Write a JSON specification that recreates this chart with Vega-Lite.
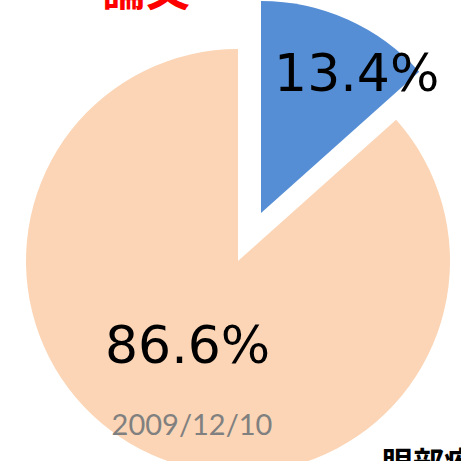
{
  "$schema": "https://vega.github.io/schema/vega-lite/v6.json",
  "width": 461,
  "height": 461,
  "autosize": "none",
  "padding": 0,
  "background": "white",
  "view": {"stroke": null},
  "datasets": {
    "pie": [
      {"category": "Yes", "value": 13.4, "label": "13.4%"},
      {"category": "No", "value": 86.6, "label": "86.6%"}
    ]
  },
  "layer": [
    {
      "data": {"name": "pie"},
      "mark": {"type": "arc", "x": 238, "y": 261, "outerRadius": 212},
      "encoding": {
        "theta": {"field": "value", "type": "quantitative", "stack": true},
        "order": {"field": "value", "type": "quantitative", "sort": "ascending"},
        "color": {"field": "category", "type": "nominal", "scale": {"domain": ["Yes", "No"], "range": ["#558ED5", "#FBD5B5"]}, "legend": null},
        "opacity": {"condition": {"test": "datum.category === 'No'", "value": 1}, "value": 0}
      }
    },
    {
      "data": {"name": "pie"},
      "mark": {"type": "arc", "x": 261, "y": 213, "outerRadius": 212},
      "encoding": {
        "theta": {"field": "value", "type": "quantitative", "stack": true},
        "order": {"field": "value", "type": "quantitative", "sort": "ascending"},
        "color": {"field": "category", "type": "nominal", "scale": {"domain": ["Yes", "No"], "range": ["#558ED5", "#FBD5B5"]}, "legend": null},
        "opacity": {"condition": {"test": "datum.category === 'Yes'", "value": 1}, "value": 0}
      }
    },
    {
      "data": {"name": "pie"},
      "mark": {"type": "text", "x": 261, "y": 213, "radius": 151, "dx": 34, "fontSize": 52, "font": "DejaVu Sans", "color": "black", "align": "center", "baseline": "middle"},
      "encoding": {
        "theta": {"field": "value", "type": "quantitative", "stack": true},
        "order": {"field": "value", "type": "quantitative", "sort": "ascending"},
        "text": {"field": "label"},
        "opacity": {"condition": {"test": "datum.category === 'Yes'", "value": 1}, "value": 0}
      }
    },
    {
      "data": {"name": "pie"},
      "mark": {"type": "text", "x": 238, "y": 261, "radius": 94, "dx": -12, "fontSize": 52, "font": "DejaVu Sans", "color": "black", "align": "center", "baseline": "middle"},
      "encoding": {
        "theta": {"field": "value", "type": "quantitative", "stack": true},
        "order": {"field": "value", "type": "quantitative", "sort": "ascending"},
        "text": {"field": "label"},
        "opacity": {"condition": {"test": "datum.category === 'No'", "value": 1}, "value": 0}
      }
    },
    {
      "data": {"values": [{"note": "2009/12/10"}]},
      "mark": {"type": "text", "x": 192, "y": 435, "fontSize": 29, "font": "Lato", "color": "#808080", "align": "center", "baseline": "alphabetic"},
      "encoding": {"text": {"field": "note"}}
    },
    {
      "data": {"values": [{"note": "論文"}]},
      "mark": {"type": "text", "x": 146, "y": 6, "fontSize": 44, "fontWeight": "bold", "font": "Noto Sans CJK JP", "color": "#FF0000", "align": "center", "baseline": "alphabetic"},
      "encoding": {"text": {"field": "note"}}
    },
    {
      "data": {"values": [{"note": "眼部疾患"}]},
      "mark": {"type": "text", "x": 382, "y": 474, "fontSize": 31, "fontWeight": "bold", "font": "Noto Sans CJK JP", "color": "black", "align": "left", "baseline": "alphabetic"},
      "encoding": {"text": {"field": "note"}}
    }
  ]
}
